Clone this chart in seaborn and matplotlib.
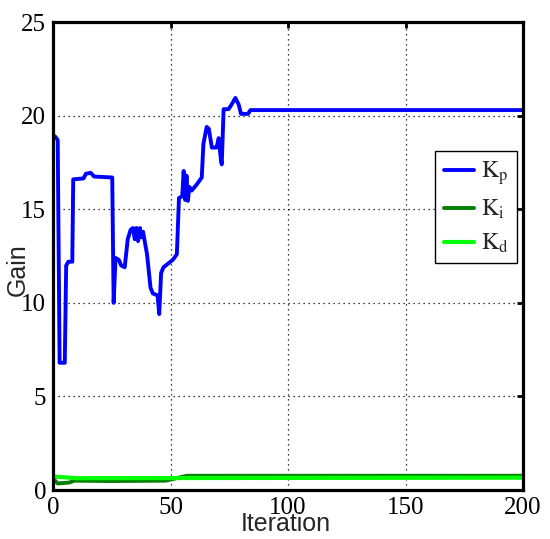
import matplotlib
matplotlib.use("Agg")
import matplotlib.pyplot as plt
import seaborn as sns

# gain curves (iteration, value)
kp_iter = [0.8, 2.0, 2.8, 5.0, 5.6, 6.5, 8.2, 8.6, 13, 14, 16, 17.5, 25.2, 25.8, 26.6, 28,
           29, 30.5, 31.8, 33, 34, 34.8, 35.5, 36.2, 37, 37.6, 38.3, 40, 41.5, 42.5, 44.5,
           45.2, 46, 47, 49.5, 51, 52.7, 53.6, 55, 55.6, 56.2, 56.8, 57.4, 58, 59, 61, 63.3,
           64, 65.4, 66.3, 67.6, 69.6, 70.5, 71.5, 71.8, 72.6, 74.7, 76, 77.6, 79, 80, 83,
           84, 200]
kp_vals = [18.9, 18.7, 6.8, 6.8, 12.0, 12.2, 12.2, 16.6, 16.65, 16.9, 16.95, 16.75, 16.7,
           10.0, 12.4, 12.3, 12.0, 11.9, 13.4, 13.9, 14.0, 13.4, 14.0, 13.3, 14.0, 13.5, 13.8,
           12.6, 10.8, 10.5, 10.4, 9.4, 11.6, 11.9, 12.15, 12.3, 12.6, 15.6, 15.7, 17.05,
           15.5, 16.8, 15.45, 16.2, 16.0, 16.3, 16.7, 18.5, 19.4, 19.3, 18.3, 18.3, 18.8,
           17.6, 17.4, 20.35, 20.35, 20.6, 20.95, 20.6, 20.1, 20.1, 20.3, 20.3]

ki_iter = [0.5, 2, 7, 9, 25, 48, 57, 200]
ki_vals = [0.55, 0.35, 0.4, 0.5, 0.48, 0.5, 0.76, 0.76]

kd_iter = [0.5, 10, 60, 200]
kd_vals = [0.72, 0.63, 0.64, 0.66]

labels = [r"$\mathrm{K_p}$", r"$\mathrm{K_i}$", r"$\mathrm{K_d}$"]
colors = ["#0000ff", "#007f00", "#00ff00"]

sns.set_style("white")
plt.rcParams["font.family"] = ["Liberation Serif", "DejaVu Serif"]
plt.rcParams["mathtext.fontset"] = "stix"

fig = plt.figure(figsize=(5.5, 5.39), dpi=100)
ax = fig.add_axes([0.0964, 0.0909, 0.8545, 0.868])

sns.lineplot(x=kp_iter, y=kp_vals, ax=ax, color=colors[0], lw=2.8, label=labels[0])
sns.lineplot(x=ki_iter, y=ki_vals, ax=ax, color=colors[1], lw=2.8, label=labels[1])
sns.lineplot(x=kd_iter, y=kd_vals, ax=ax, color=colors[2], lw=3.0, label=labels[2])

ax.set_xlim(0, 200)
ax.set_ylim(0, 25)
ax.set_xticks([0, 50, 100, 150, 200])
ax.set_yticks([0, 5, 10, 15, 20, 25])
ax.tick_params(direction="in", length=4, width=2, top=True, right=True,
               labelsize=18, pad=5, colors="black")
for s in ax.spines.values():
    s.set_linewidth(2.3)
    s.set_color("black")
ax.grid(True, color="black", linestyle=(0, (1, 3)), linewidth=0.9)

ax.set_xlabel("Iteration", family="Liberation Sans", fontsize=18)
ax.set_ylabel("Gain", family="Liberation Sans", fontsize=18)
ax.xaxis.set_label_coords(0.496, -0.048)
ax.yaxis.set_label_coords(-0.074, 0.47)
ax.xaxis.label.set_va("top")
ax.yaxis.label.set_va("center")

leg = ax.legend(loc="upper right", bbox_to_anchor=(0.988, 0.724), fontsize=17,
                handlelength=1.3, handletextpad=0.3, labelspacing=0.45,
                borderaxespad=0, fancybox=False, framealpha=1, borderpad=0.35)
leg.get_frame().set_edgecolor("black")
leg.get_frame().set_linewidth(1.0)

plt.savefig("out.png", dpi=100)
